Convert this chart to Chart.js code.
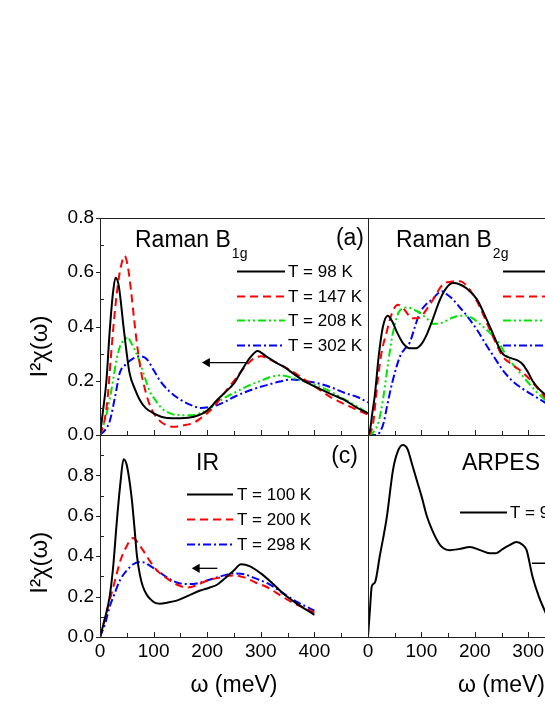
<!DOCTYPE html>
<html lang="en">
<head>
<meta charset="UTF-8">
<title>Raman, IR and ARPES spectra</title>
<script src="https://cdn.jsdelivr.net/npm/chart.js"></script>
<style>
  body { margin: 0; width: 545px; height: 705px; overflow: hidden; background: #fff; position: relative; }
  canvas { position: absolute; }
</style>
</head>
<body>
<canvas id="b1g" width="400" height="253" style="left:0;top:200px"></canvas>
<canvas id="b2g" width="320" height="253" style="left:340px;top:200px"></canvas>
<canvas id="ir" width="400" height="288" style="left:0;top:417px"></canvas>
<canvas id="arpes" width="320" height="288" style="left:340px;top:417px"></canvas>

<script>
// omega in meV, values of I^2 chi(omega)

// (a) Raman B1g
const b1gW98 = [0, 5, 12, 18, 24, 29, 35, 45, 55, 65, 74, 85, 100, 125, 150, 175, 200, 219, 235, 250, 265, 280, 294, 310, 330, 344, 365, 389, 410, 432, 455, 476, 500];
const b1g98 = [0, 0.08, 0.2, 0.38, 0.52, 0.58, 0.55, 0.38, 0.23, 0.17, 0.13, 0.1, 0.08, 0.063, 0.062, 0.067, 0.09, 0.13, 0.16, 0.19, 0.24, 0.285, 0.31, 0.29, 0.265, 0.25, 0.22, 0.19, 0.17, 0.15, 0.13, 0.105, 0.08];
const b1gW147 = [0, 8, 14, 20, 26, 33, 40, 46, 52, 58, 64, 70, 76, 85, 95, 110, 125, 137, 155, 175, 190, 200, 215, 230, 250, 270, 285, 300, 320, 345, 370, 400, 430, 460, 500];
const b1g147 = [0, 0.05, 0.13, 0.28, 0.42, 0.55, 0.63, 0.66, 0.62, 0.53, 0.42, 0.32, 0.24, 0.16, 0.1, 0.055, 0.035, 0.03, 0.035, 0.045, 0.065, 0.08, 0.11, 0.15, 0.2, 0.25, 0.28, 0.29, 0.275, 0.25, 0.22, 0.18, 0.14, 0.11, 0.075];
const b1gW208 = [0, 10, 18, 25, 31, 38, 45, 52, 58, 66, 74, 84, 93, 103, 112, 125, 143, 165, 187, 205, 219, 235, 250, 275, 300, 320, 338, 360, 385, 408, 435, 457, 480, 500];
const b1g208 = [0, 0.06, 0.13, 0.21, 0.28, 0.33, 0.35, 0.36, 0.34, 0.31, 0.27, 0.21, 0.16, 0.13, 0.105, 0.085, 0.074, 0.073, 0.08, 0.1, 0.12, 0.14, 0.155, 0.18, 0.2, 0.215, 0.22, 0.21, 0.195, 0.18, 0.155, 0.13, 0.105, 0.08];
const b1gW302 = [0, 10, 18, 28, 37, 48, 60, 74, 87, 100, 112, 130, 150, 170, 187, 205, 219, 235, 250, 280, 313, 335, 357, 380, 408, 432, 457, 480, 500];
const b1g302 = [0, 0.02, 0.05, 0.14, 0.23, 0.26, 0.28, 0.29, 0.28, 0.24, 0.2, 0.16, 0.13, 0.11, 0.1, 0.103, 0.11, 0.125, 0.14, 0.165, 0.185, 0.197, 0.205, 0.2, 0.19, 0.175, 0.155, 0.14, 0.12];

// Raman B2g
const b2gW98 = [0, 4, 8, 13, 20, 28, 37, 45, 54, 65, 78, 90, 100, 110, 120, 135, 148, 159, 172, 185, 204, 228, 252, 265, 280, 290, 300, 308, 320, 331, 345];
const b2g98 = [0, 0.02, 0.08, 0.15, 0.29, 0.4, 0.44, 0.42, 0.38, 0.34, 0.32, 0.32, 0.335, 0.37, 0.42, 0.5, 0.545, 0.56, 0.555, 0.54, 0.5, 0.4, 0.3, 0.285, 0.275, 0.26, 0.23, 0.2, 0.17, 0.15, 0.12];
const b2gW147 = [0, 5, 10, 17, 25, 35, 45, 56, 69, 82, 92, 101, 112, 122, 140, 155, 172, 185, 196, 210, 222, 237, 252, 270, 290, 310, 331, 345];
const b2g147 = [0, 0.01, 0.05, 0.18, 0.3, 0.38, 0.45, 0.48, 0.46, 0.43, 0.43, 0.44, 0.47, 0.5, 0.555, 0.565, 0.567, 0.55, 0.52, 0.47, 0.415, 0.35, 0.29, 0.26, 0.23, 0.19, 0.14, 0.11];
const b2gW208 = [0, 10, 20, 28, 38, 47, 60, 75, 88, 97, 110, 120, 130, 140, 155, 172, 185, 196, 215, 234, 248, 260, 280, 297, 315, 331, 345];
const b2g208 = [0, 0.01, 0.05, 0.13, 0.27, 0.38, 0.46, 0.47, 0.46, 0.45, 0.43, 0.41, 0.41, 0.415, 0.43, 0.44, 0.44, 0.43, 0.4, 0.365, 0.33, 0.29, 0.24, 0.2, 0.16, 0.13, 0.1];
const b2gW302 = [0, 15, 22, 30, 35, 45, 60, 70, 78, 88, 97, 108, 120, 138, 150, 159, 172, 185, 205, 222, 237, 252, 270, 290, 310, 331, 345];
const b2g302 = [0, 0, 0.01, 0.05, 0.1, 0.19, 0.29, 0.32, 0.34, 0.4, 0.45, 0.48, 0.5, 0.53, 0.515, 0.5, 0.47, 0.44, 0.385, 0.33, 0.285, 0.24, 0.2, 0.17, 0.145, 0.12, 0.1];

// (c) IR
const irW100 = [0, 10, 18, 25, 31, 38, 44, 50, 59, 64, 69, 75, 80, 87, 93, 102, 112, 125, 143, 165, 187, 205, 219, 235, 250, 263, 280, 300, 320, 344, 370, 400];
const ir100 = [0, 0.1, 0.2, 0.36, 0.56, 0.76, 0.88, 0.85, 0.69, 0.55, 0.4, 0.3, 0.25, 0.21, 0.19, 0.17, 0.165, 0.17, 0.18, 0.205, 0.23, 0.245, 0.26, 0.295, 0.33, 0.36, 0.35, 0.315, 0.27, 0.21, 0.16, 0.11];
const irW200 = [0, 10, 18, 28, 37, 44, 50, 56, 62, 70, 80, 92, 106, 125, 143, 162, 180, 200, 225, 250, 269, 290, 313, 340, 363, 385, 400];
const ir200 = [0, 0.1, 0.18, 0.28, 0.37, 0.42, 0.45, 0.48, 0.49, 0.47, 0.43, 0.38, 0.33, 0.29, 0.26, 0.245, 0.255, 0.28, 0.295, 0.305, 0.295, 0.27, 0.245, 0.2, 0.165, 0.14, 0.12];
const irW298 = [0, 10, 18, 28, 37, 50, 62, 72, 80, 92, 106, 125, 143, 162, 180, 200, 225, 250, 270, 290, 313, 340, 363, 385, 400];
const ir298 = [0, 0.07, 0.15, 0.22, 0.28, 0.33, 0.36, 0.37, 0.37, 0.355, 0.33, 0.295, 0.27, 0.262, 0.265, 0.28, 0.3, 0.315, 0.31, 0.29, 0.265, 0.22, 0.18, 0.15, 0.13];

// ARPES
const arpesW = [0, 4, 7, 13, 22, 35, 47, 56, 65, 74, 82, 92, 101, 110, 120, 135, 153, 170, 191, 210, 228, 240, 252, 265, 278, 290, 297, 308, 320, 331, 345];
const arpes90 = [0, 0.15, 0.25, 0.27, 0.4, 0.59, 0.83, 0.92, 0.95, 0.93, 0.86, 0.77, 0.69, 0.6, 0.53, 0.455, 0.43, 0.435, 0.445, 0.43, 0.415, 0.415, 0.435, 0.455, 0.47, 0.455, 0.43, 0.3, 0.2, 0.13, 0.05];

// arrows (tail, head)
const arrowB1gW = [272, 200], arrowB1gY = [0.267, 0.267];
const arrowIrW = [219, 181], arrowIrY = [0.34, 0.34];
const arrowArpesW = [307, 400], arrowArpesY = [0.365, 0.365];

const FONT = '"Liberation Sans", Arial, Helvetica, sans-serif';
const BLACK = '#000000', RED = '#ff0000', GREEN = '#00e600', BLUE = '#0000ff';
const DASH = [8, 5], DASHDOTDOT = [8, 3, 2, 3, 2, 3], DASHDOT = [8, 3, 2, 3];
const Y_TITLE = 'I²χ(ω)';

function pts(xs, ys) {
  return xs.map((x, i) => ({ x: x, y: ys[i] }));
}

function curve(label, color, dash, xs, ys) {
  return {
    label: label, data: pts(xs, ys),
    borderColor: color, borderWidth: 2, borderDash: dash,
    pointRadius: 0, fill: false, cubicInterpolationMode: 'monotone'
  };
}

function arrow(xs, ys, dir) {
  return {
    data: pts(xs, ys), borderColor: BLACK, backgroundColor: BLACK, borderWidth: 1.3,
    pointRadius: [0, 4], pointStyle: 'triangle', rotation: dir
  };
}

// frame, inward ticks, panel texts and the in-panel legend
const decor = {
  id: 'decor',
  afterDatasetsDraw(chart, args, o) {
    const { ctx, chartArea: a } = chart;
    const x = chart.scales.x, y = chart.scales.y;
    ctx.save();
    ctx.strokeStyle = '#222';
    ctx.lineWidth = 1;
    ctx.strokeRect(a.left + 0.5, a.top + 0.5, a.right - a.left, a.bottom - a.top);
    ctx.beginPath();
    x.ticks.forEach(t => {
      const px = Math.round(x.getPixelForValue(t.value)) + 0.5;
      const len = t.value % 100 === 0 ? 5 : 4;
      ctx.moveTo(px, a.bottom);
      ctx.lineTo(px, a.bottom - len);
    });
    if (o.yTicks) {
      y.ticks.forEach(t => {
        const py = Math.round(y.getPixelForValue(t.value)) + 0.5;
        const major = Math.round(t.value * 10) % 2 === 0;
        ctx.moveTo(a.left, py);
        ctx.lineTo(major ? a.left - 4 : a.left + 4, py);
      });
    }
    ctx.stroke();

    ctx.fillStyle = '#000';
    ctx.textBaseline = 'alphabetic';
    o.texts.forEach(s => {
      ctx.font = s.size + 'px ' + FONT;
      if (s.right) {
        ctx.textAlign = 'right';
        ctx.fillText(s.t, a.right + s.x, a.top + s.y);
      } else {
        ctx.textAlign = 'left';
        ctx.fillText(s.t, a.left + s.x, a.top + s.y);
        if (s.sub) {
          const w = ctx.measureText(s.t).width;
          ctx.font = '14px ' + FONT;
          ctx.fillText(s.sub, a.left + s.x + w + 1, a.top + s.y + 11);
        }
      }
    });

    const L = o.legend;
    let row = 0;
    chart.data.datasets.forEach(ds => {
      if (!ds.label) return;
      const yy = Math.round(a.top + L.y + row * L.dy) + 0.5;
      ctx.beginPath();
      ctx.setLineDash(ds.borderDash || []);
      ctx.strokeStyle = ds.borderColor;
      ctx.lineWidth = 2;
      ctx.moveTo(a.left + L.x0, yy);
      ctx.lineTo(a.left + L.x1, yy);
      ctx.stroke();
      ctx.setLineDash([]);
      ctx.font = '17px ' + FONT;
      ctx.textAlign = 'left';
      ctx.textBaseline = 'middle';
      ctx.fillText(ds.label, a.left + L.x1 + L.gap, yy + 1);
      row++;
    });
    ctx.restore();
  }
};

function panel(id, datasets, o) {
  return new Chart(document.getElementById(id), {
    type: 'line',
    data: { datasets: datasets },
    options: {
      responsive: false, animation: false, devicePixelRatio: 1, events: [],
      layout: { padding: o.pad },
      plugins: { legend: { display: false }, tooltip: { enabled: false }, decor: o.decor },
      scales: {
        x: {
          type: 'linear', min: 0, max: 500,
          grid: { display: false, drawTicks: false }, border: { display: false },
          ticks: {
            display: o.xLabels, stepSize: 50, autoSkip: false, maxRotation: 0, padding: 3,
            color: '#000', font: { family: FONT, size: 19 },
            callback: v => (v % 100 === 0 && v < 500) ? String(v) : ''
          },
          title: {
            display: o.xLabels, text: 'ω (meV)', color: '#000',
            font: { family: FONT, size: 23 }, padding: { top: 0, bottom: 6 }
          },
          afterFit: s => { s.height = o.xH; }
        },
        y: {
          min: 0, max: o.yMax,
          grid: { display: false, drawTicks: false }, border: { display: false },
          ticks: {
            display: o.yLabels, stepSize: 0.1, autoSkip: false, padding: 6,
            color: '#000', font: { family: FONT, size: 19 },
            callback: v => {
              const k = Math.round(v * 10);
              return (k % 2 === 0 && k < 10) ? (k / 10).toFixed(1) : '';
            }
          },
          // trailing spaces push the visible title a little below the axis centre, as in the original
          title: {
            display: o.yLabels, text: Y_TITLE + ' '.repeat(o.yShift || 0), color: '#000',
            font: { family: FONT, size: 24 }, padding: { top: 26, bottom: 0 }
          },
          afterFit: s => { s.width = o.yW; }
        }
      }
    },
    plugins: [decor]
  });
}

panel('b1g', [
  curve('T = 98 K', BLACK, [], b1gW98, b1g98),
  curve('T = 147 K', RED, DASH, b1gW147, b1g147),
  curve('T = 208 K', GREEN, DASHDOTDOT, b1gW208, b1g208),
  curve('T = 302 K', BLUE, DASHDOT, b1gW302, b1g302),
  arrow(arrowB1gW, arrowB1gY, -90)
], {
  pad: { top: 18, left: 0, right: 32, bottom: 18 }, xH: 0, yW: 100, yMax: 0.8, yShift: 6,
  xLabels: false, yLabels: true,
  decor: {
    yTicks: true,
    texts: [{ t: 'Raman B', sub: '1g', x: 35, y: 29, size: 23 }, { t: '(a)', right: true, x: -4, y: 27, size: 23 }],
    legend: { x0: 137, x1: 185, gap: 3, y: 53, dy: 24.7 }
  }
});

panel('b2g', [
  curve('T = 98 K', BLACK, [], b2gW98, b2g98),
  curve('T = 147 K', RED, DASH, b2gW147, b2g147),
  curve('T = 208 K', GREEN, DASHDOTDOT, b2gW208, b2g208),
  curve('T = 302 K', BLUE, DASHDOT, b2gW302, b2g302)
], {
  pad: { top: 18, left: 0, right: 25, bottom: 18 }, xH: 0, yW: 28, yMax: 0.8,
  xLabels: false, yLabels: false,
  decor: {
    yTicks: false,
    texts: [{ t: 'Raman B', sub: '2g', x: 28, y: 29, size: 23 }],
    legend: { x0: 135, x1: 183, gap: 3, y: 53, dy: 24.7 }
  }
});

panel('ir', [
  curve('T = 100 K', BLACK, [], irW100, ir100),
  curve('T = 200 K', RED, DASH, irW200, ir200),
  curve('T = 298 K', BLUE, DASHDOT, irW298, ir298),
  arrow(arrowIrW, arrowIrY, -90)
], {
  pad: { top: 18, left: 0, right: 32, bottom: 0 }, xH: 68, yW: 100, yMax: 1.0, yShift: 8,
  xLabels: true, yLabels: true,
  decor: {
    yTicks: true,
    texts: [{ t: 'IR', x: 96, y: 35, size: 23 }, { t: '(c)', right: true, x: -10, y: 28, size: 23 }],
    legend: { x0: 87, x1: 133, gap: 4, y: 59, dy: 25 }
  }
});

panel('arpes', [
  curve('T = 90 K', BLACK, [], arpesW, arpes90),
  arrow(arrowArpesW, arrowArpesY, 90)
], {
  pad: { top: 18, left: 0, right: 25, bottom: 0 }, xH: 68, yW: 28, yMax: 1.0,
  xLabels: true, yLabels: false,
  decor: {
    yTicks: false,
    texts: [{ t: 'ARPES', x: 94, y: 35, size: 23 }],
    legend: { x0: 92, x1: 139, gap: 3, y: 77, dy: 25 }
  }
});
</script>
</body>
</html>
